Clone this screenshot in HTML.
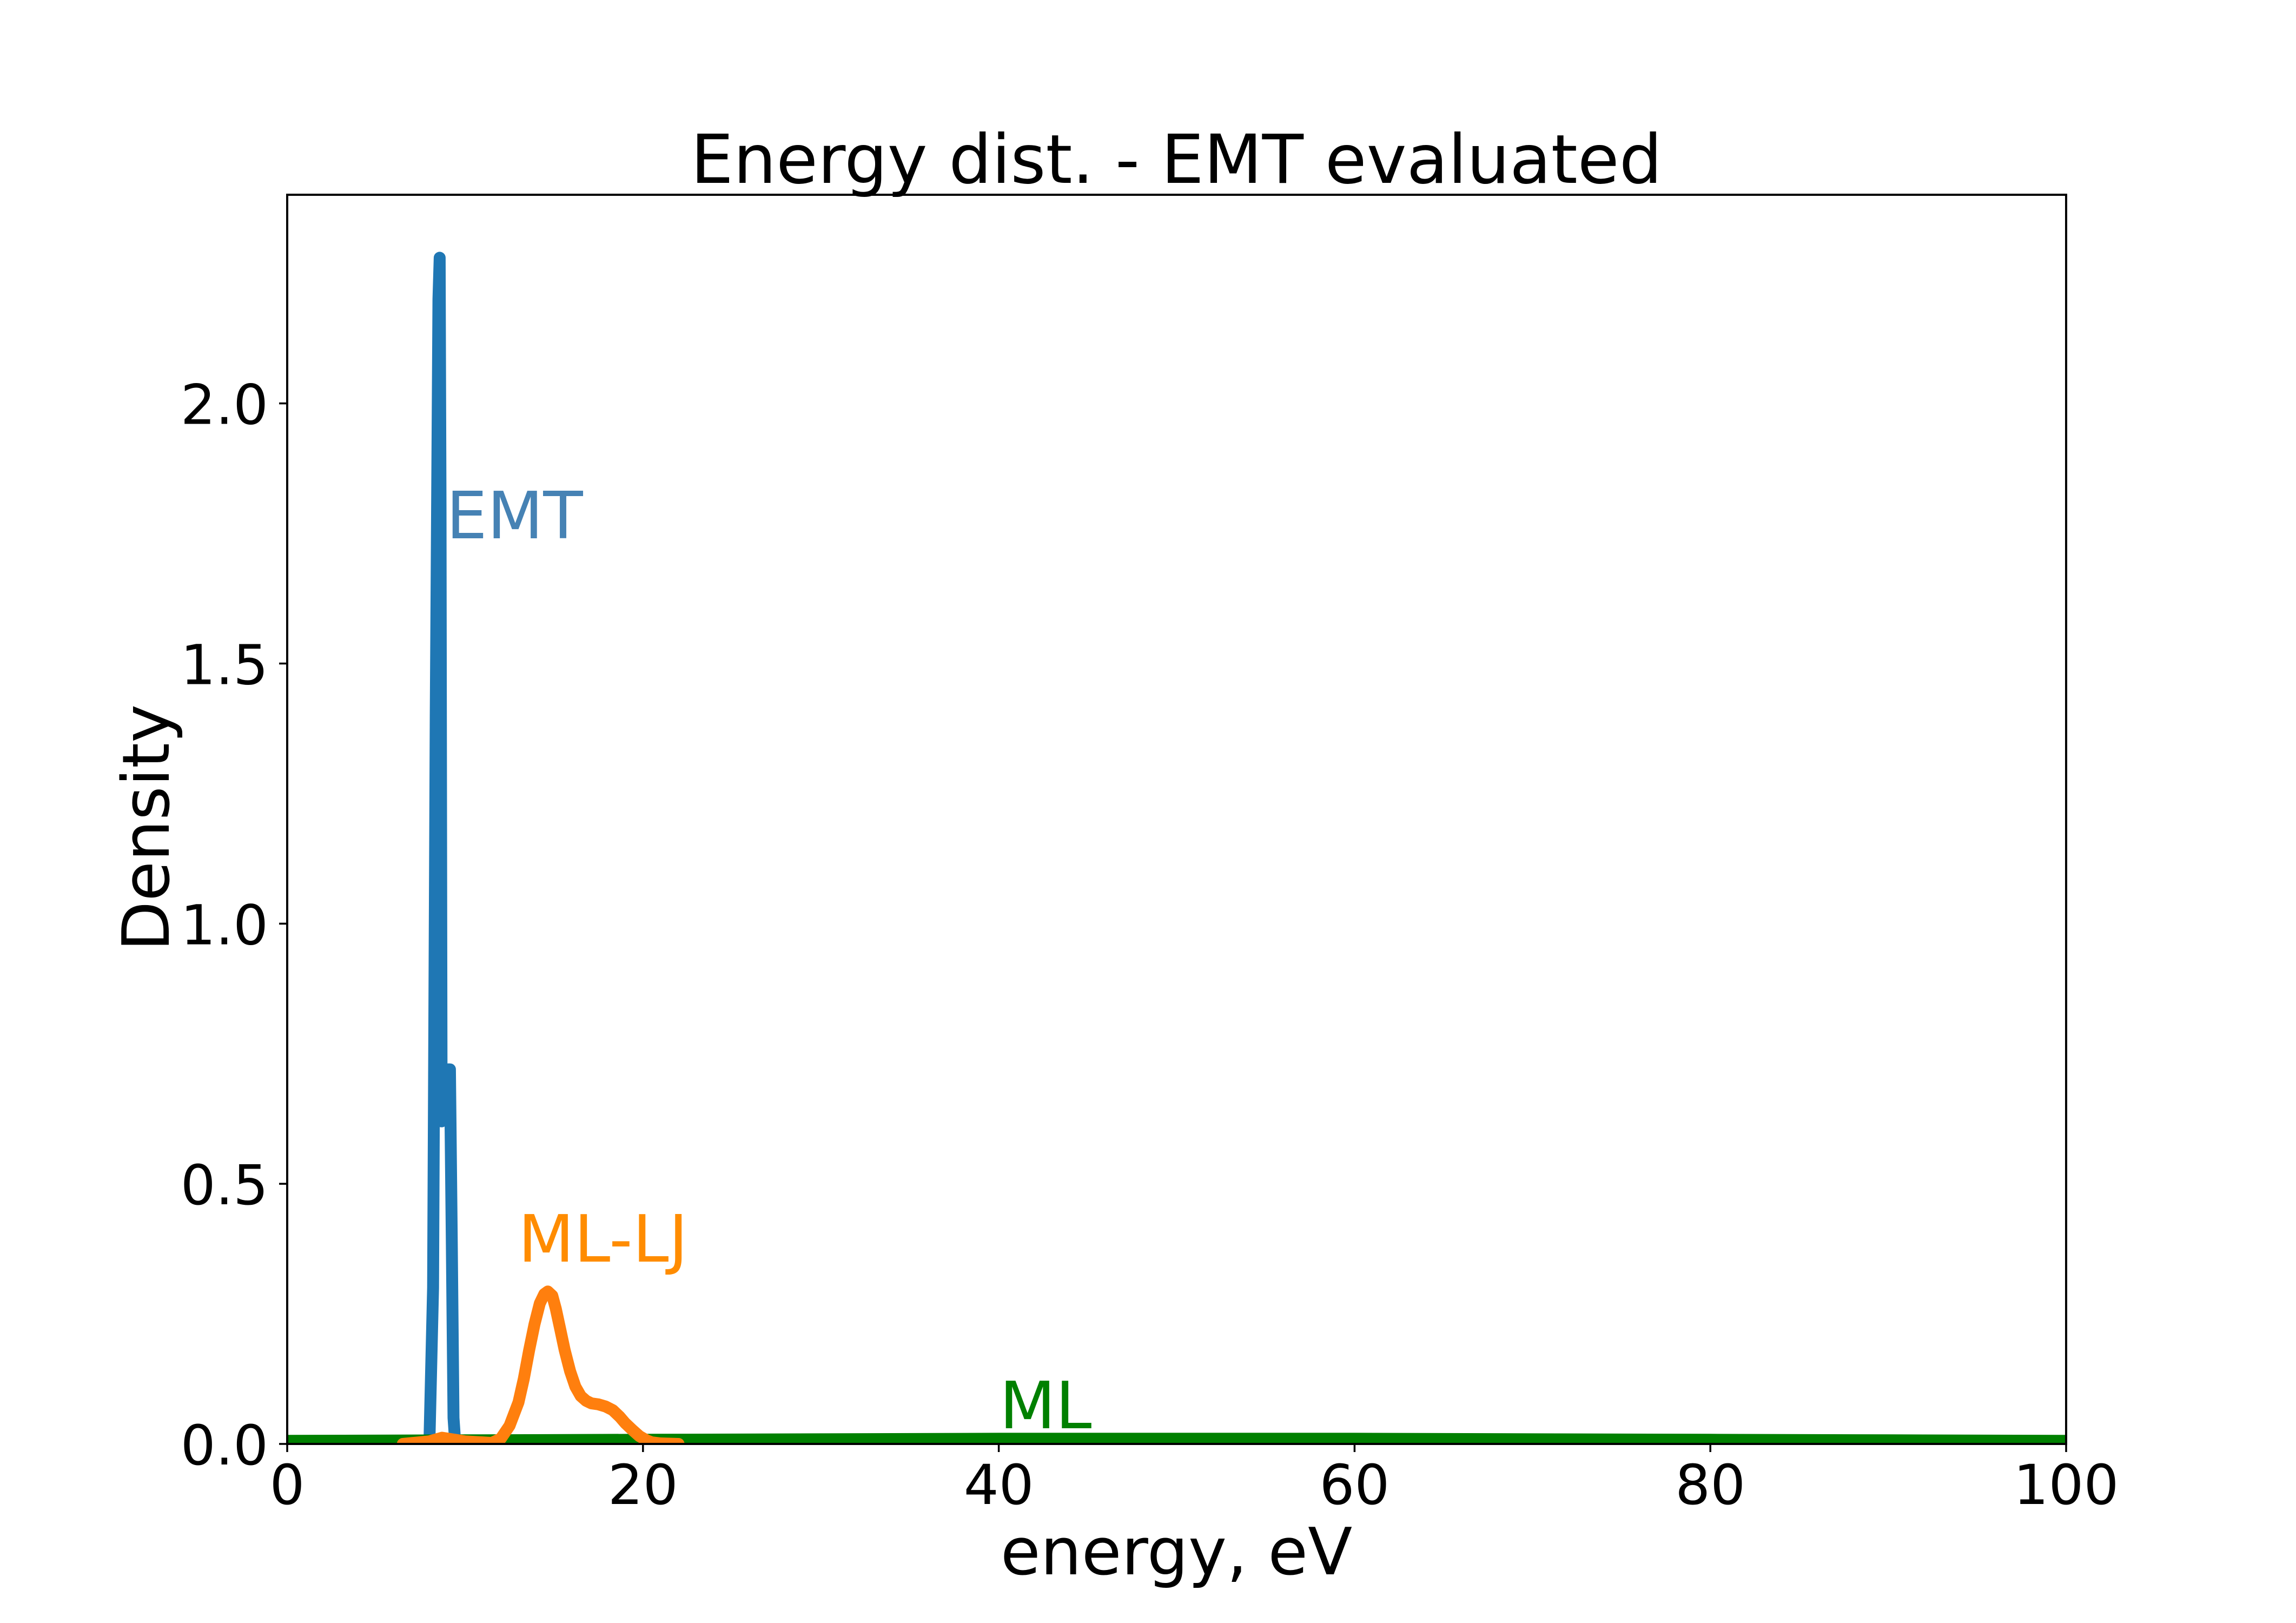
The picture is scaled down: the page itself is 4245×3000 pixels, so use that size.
<!DOCTYPE html>
<html><head><meta charset="utf-8"><style>
html,body{margin:0;padding:0;background:#fff;}
svg{display:block;font-family:"DejaVu Sans","Liberation Sans",sans-serif;}
</style></head><body>
<svg id="chart" width="4245" height="3000" viewBox="0 0 4245 3000" xmlns="http://www.w3.org/2000/svg">
<rect width="4245" height="3000" fill="#fff"/>
<text x="2175" y="338" font-size="125" text-anchor="middle">Energy dist. - EMT evaluated</text>
<g id="plot"></g>
<text x="2175" y="2910" font-size="120" text-anchor="middle">energy, eV</text>
<text x="0" y="0" font-size="120" text-anchor="middle" transform="translate(312,1530) rotate(-90)">Density</text>
</svg>
<script>
const xTicks = [0, 20, 40, 60, 80, 100];
const yTicks = [0.0, 0.5, 1.0, 1.5, 2.0];
const yTickLabels = ["0.0", "0.5", "1.0", "1.5", "2.0"];
const emtX = [7.8, 8.0, 8.2, 8.35, 8.5, 8.57, 8.62, 8.68, 8.9, 9.05, 9.15, 9.25, 9.35, 9.45];
const emtY = [0, 0.01, 0.3, 1.4, 2.2, 2.28, 1.8, 0.62, 0.68, 0.72, 0.72, 0.4, 0.05, 0];
const mlljX = [6.5, 8, 8.7, 10, 11.5, 12.0, 12.5, 13, 13.3, 13.6, 13.9, 14.2, 14.45, 14.65, 14.9, 15.1, 15.35, 15.6, 15.9, 16.2, 16.5, 16.8, 17.1, 17.5, 17.9, 18.3, 18.7, 19, 19.4, 19.8, 20.2, 20.5, 21, 22];
const mlljY = [0, 0.005, 0.012, 0.005, 0.002, 0.01, 0.035, 0.08, 0.125, 0.18, 0.23, 0.27, 0.288, 0.293, 0.285, 0.26, 0.22, 0.18, 0.14, 0.11, 0.092, 0.083, 0.078, 0.076, 0.072, 0.065, 0.052, 0.04, 0.027, 0.015, 0.007, 0.003, 0.001, 0];
const mlX = [0, 10, 20, 30, 40, 50, 60, 70, 80, 90, 100];
const mlY = [0.007, 0.008, 0.009, 0.01, 0.011, 0.011, 0.011, 0.01, 0.009, 0.008, 0.007];

const L = 531, R = 3820, T = 360, B = 2669;
const xMin = 0, xMax = 100, yMin = 0, yMax = 2.401;
function sx(v){ return L + (v - xMin) / (xMax - xMin) * (R - L); }
function sy(v){ return B - (v - yMin) / (yMax - yMin) * (B - T); }
const NS = "http://www.w3.org/2000/svg";
const plot = document.getElementById('plot');
function mk(tag, attrs){ const e = document.createElementNS(NS, tag); for (const k in attrs) e.setAttribute(k, attrs[k]); plot.appendChild(e); return e; }

const defs = mk('defs', {});
const cp = document.createElementNS(NS, 'clipPath'); cp.setAttribute('id', 'clip'); defs.appendChild(cp);
const cr = document.createElementNS(NS, 'rect'); cr.setAttribute('x', L); cr.setAttribute('y', T); cr.setAttribute('width', R - L); cr.setAttribute('height', B - T); cp.appendChild(cr);

function line(xs, ys, color, w, name){
  const d = xs.map((x, i) => (i ? 'L' : 'M') + sx(x).toFixed(1) + ',' + sy(ys[i]).toFixed(1)).join(' ');
  const p = mk('path', {d: d, fill: 'none', stroke: color, 'stroke-width': w, 'stroke-linejoin': 'round', 'stroke-linecap': 'round', 'clip-path': 'url(#clip)'});
  
  
}
line(emtX, emtY, '#1f77b4', 22, 'emt-density-line');
line(mlX, mlY, '#008000', 20, 'ml-density-line');
line(mlljX, mlljY, '#ff7f0e', 22, 'ml-lj-density-line');

const frame = mk('rect', {x: L, y: T, width: R - L, height: B - T, fill: 'none', stroke: '#000', 'stroke-width': 4});



xTicks.forEach(v => {
  const t = mk('line', {x1: sx(v), x2: sx(v), y1: B, y2: B + 15, stroke: '#000', 'stroke-width': 3.5});
  
  
  const tx = mk('text', {x: sx(v), y: 2780, 'font-size': 102, 'text-anchor': 'middle'});
  tx.textContent = String(v);
  
  
});
yTicks.forEach((v, i) => {
  const t = mk('line', {x1: L - 15, x2: L, y1: sy(v), y2: sy(v), stroke: '#000', 'stroke-width': 3.5});
  
  
  const tx = mk('text', {x: 496, y: sy(v) + 38, 'font-size': 102, 'text-anchor': 'end'});
  tx.textContent = yTickLabels[i];
  
  
});

const a1 = mk('text', {x: 825, y: 995, 'font-size': 120, fill: '#4682b4'}); a1.textContent = 'EMT';


const a2 = mk('text', {x: 958, y: 2332, 'font-size': 120, fill: '#ff8c00'}); a2.textContent = 'ML-LJ';


const a3 = mk('text', {x: 1848, y: 2640, 'font-size': 120, fill: '#008000'}); a3.textContent = 'ML';


</script>
</body></html>
